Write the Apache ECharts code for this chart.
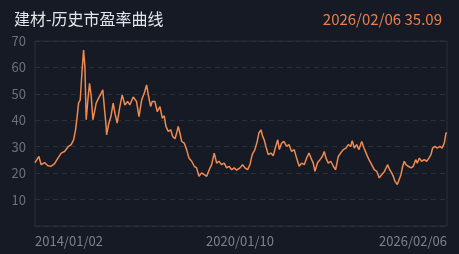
<!DOCTYPE html>
<html><head><meta charset="utf-8">
<script src="https://cdn.jsdelivr.net/npm/echarts@6/dist/echarts.min.js"></script>
<style>html,body{margin:0;padding:0;background:#161a24;}#c{width:459px;height:254px;}</style>
</head><body><div id="c"></div>
<script>
var chartTitle = '建材-历史市盈率曲线';
var latestLabel = '2026/02/06 35.09';
var xTickLabels = ['2014-01-02', '2020-01-10', '2026-02-06'];
var yTicks = [10, 20, 30, 40, 50, 60, 70];

var dates = [
 '2014-01-02','2014-02-13','2014-03-09','2014-04-14','2014-05-20','2014-06-25','2014-07-31','2014-09-05','2014-10-10','2014-11-15','2014-12-21',
 '2015-01-25','2015-02-20','2015-03-13','2015-03-30','2015-04-14','2015-05-02','2015-05-20','2015-06-07','2015-06-21','2015-07-05','2015-07-23','2015-08-10','2015-08-28','2015-09-15','2015-10-03','2015-10-20','2015-11-15','2015-12-13','2015-12-30',
 '2016-01-18','2016-02-04','2016-02-09','2016-03-04','2016-03-26','2016-04-19','2016-05-08','2016-06-01','2016-06-30','2016-07-25','2016-08-23','2016-09-21','2016-10-15','2016-11-20','2016-12-26',
 '2017-01-21','2017-02-19','2017-03-19','2017-04-13','2017-05-01','2017-05-26','2017-06-12','2017-07-11','2017-08-05','2017-09-03','2017-09-28','2017-10-19','2017-11-06','2017-12-01','2017-12-27',
 '2018-01-17','2018-02-11','2018-03-01','2018-03-18','2018-04-05','2018-04-24','2018-05-21','2018-06-16','2018-07-11','2018-08-09','2018-09-06','2018-10-01','2018-10-26','2018-11-24','2018-12-22',
 '2019-01-17','2019-02-13','2019-03-11','2019-04-08','2019-05-04','2019-05-28','2019-06-26','2019-07-24','2019-08-19','2019-09-13','2019-10-12','2019-11-08','2019-12-04',
 '2020-01-09','2020-02-06','2020-03-02','2020-03-31','2020-04-25','2020-05-19','2020-06-17','2020-07-12','2020-07-30','2020-08-21','2020-09-08','2020-09-25','2020-10-13','2020-11-07','2020-12-06','2020-12-31',
 '2021-01-26','2021-02-17','2021-03-06','2021-03-31','2021-04-24','2021-05-23','2021-06-17','2021-07-16','2021-08-13','2021-09-07','2021-10-05','2021-10-31','2021-11-28','2021-12-24',
 '2022-01-18','2022-02-09','2022-03-05','2022-03-23','2022-04-21','2022-05-16','2022-06-10','2022-07-01','2022-07-19','2022-08-13','2022-09-08','2022-10-06','2022-10-31','2022-11-28','2022-12-24',
 '2023-01-21','2023-02-19','2023-03-15','2023-04-10','2023-04-27','2023-05-19','2023-06-13','2023-07-08','2023-08-06','2023-08-31','2023-09-29','2023-10-23','2023-11-21','2023-12-19',
 '2024-01-14','2024-02-11','2024-03-07','2024-04-04','2024-05-11','2024-06-01','2024-06-23','2024-07-10','2024-07-28','2024-08-22','2024-09-12','2024-09-30','2024-10-19','2024-11-05','2024-11-23','2024-12-18',
 '2025-01-16','2025-02-10','2025-03-07','2025-03-24','2025-04-15','2025-05-10','2025-06-07','2025-07-03','2025-07-27','2025-08-18','2025-09-05','2025-09-30','2025-10-24','2025-11-22','2025-12-17',
 '2026-01-08','2026-01-26','2026-02-06'
];
var peValues = [
 24.0,26.3,23.2,24.0,22.8,22.6,23.6,25.7,27.6,28.2,29.9,
 30.8,32.6,36.4,41.4,46.5,47.7,57.8,66.6,60.3,40.2,47.7,54.0,49.0,40.2,43.3,46.5,48.4,50.3,51.5,
 44.0,37.7,34.5,38.9,41.4,46.5,42.7,38.9,45.2,49.6,45.8,47.1,45.8,48.8,47.1,
 41.4,47.7,50.3,53.4,49.6,45.2,47.1,47.1,43.3,45.2,40.8,41.7,37.7,35.8,36.4,
 33.9,33.0,35.2,37.7,35.2,32.0,31.4,28.9,25.7,24.5,22.6,22.0,18.8,20.1,19.4,
 18.8,21.3,23.2,27.6,23.8,24.5,23.2,23.8,22.0,22.6,21.3,22.0,21.1,
 22.0,23.2,22.0,21.3,23.2,27.0,28.9,32.0,35.2,36.4,33.9,32.6,30.1,27.0,27.6,26.6,
 30.1,32.6,28.9,31.4,32.0,30.1,30.8,28.2,28.9,25.7,22.6,23.8,23.2,25.7,
 27.6,25.7,23.8,20.7,24.0,25.1,26.3,28.2,25.7,23.8,24.5,22.6,21.3,26.3,27.6,
 28.9,29.5,30.8,30.1,32.3,29.5,30.8,28.9,32.0,29.5,27.0,25.1,23.2,21.3,
 20.7,18.2,19.4,20.5,23.2,21.3,20.1,18.8,16.9,15.7,16.3,19.4,22.6,24.5,23.2,22.6,
 22.0,22.6,25.1,23.8,25.7,24.5,25.1,24.5,25.7,27.0,29.5,30.1,29.5,30.1,29.5,
 31.4,35.2,35.09
];

function ts(s) { return new Date(s + 'T00:00:00Z').getTime(); }
function fmt(v) {
  var d = new Date(v);
  var m = d.getUTCMonth() + 1, day = d.getUTCDate();
  return d.getUTCFullYear() + '/' + (m < 10 ? '0' : '') + m + '/' + (day < 10 ? '0' : '') + day;
}
var seriesData = dates.map(function (d, i) { return [ts(d), peValues[i]]; });
var xTickValues = xTickLabels.map(ts);

var chart = echarts.init(document.getElementById('c'), null, {renderer: 'canvas'});
chart.setOption({
  backgroundColor: '#161a24',
  animation: false,
  textStyle: {fontFamily: '"Noto Sans CJK SC", "Noto Sans", sans-serif'},
  title: [
    {text: chartTitle, left: 9, top: 6, textStyle: {color: '#e4e6ea', fontSize: 16, fontWeight: 'normal'}},
    {text: latestLabel, right: 12, top: 7, textStyle: {color: '#e8804f', fontSize: 15, fontWeight: 'normal'}}
  ],
  grid: {left: 35, right: 12, top: 41, bottom: 28, show: true, borderColor: '#2b2f3b', borderWidth: 1, containLabel: false},
  xAxis: {
    type: 'value',
    min: xTickValues[0],
    max: xTickValues[xTickValues.length - 1],
    axisLine: {show: false},
    axisTick: {show: false},
    splitLine: {show: false},
    axisLabel: {
      color: '#7d818c', fontSize: 13, margin: 9,
      customValues: xTickValues,
      alignMinLabel: 'left', alignMaxLabel: 'right',
      formatter: fmt
    }
  },
  yAxis: {
    type: 'value', min: 0, max: 70, interval: 10,
    axisLine: {show: false}, axisTick: {show: false},
    axisLabel: {color: '#6c707b', fontSize: 13, margin: 9, showMinLabel: false,
      formatter: function (v) { return yTicks.indexOf(v) >= 0 ? String(v) : ''; }},
    splitLine: {show: true, lineStyle: {color: '#2b2f3b', type: [5, 4], width: 1}}
  },
  series: [{
    type: 'line', data: seriesData, showSymbol: false, symbol: 'none',
    lineStyle: {color: '#ef8a50', width: 1.5}
  }]
});
</script></body></html>
